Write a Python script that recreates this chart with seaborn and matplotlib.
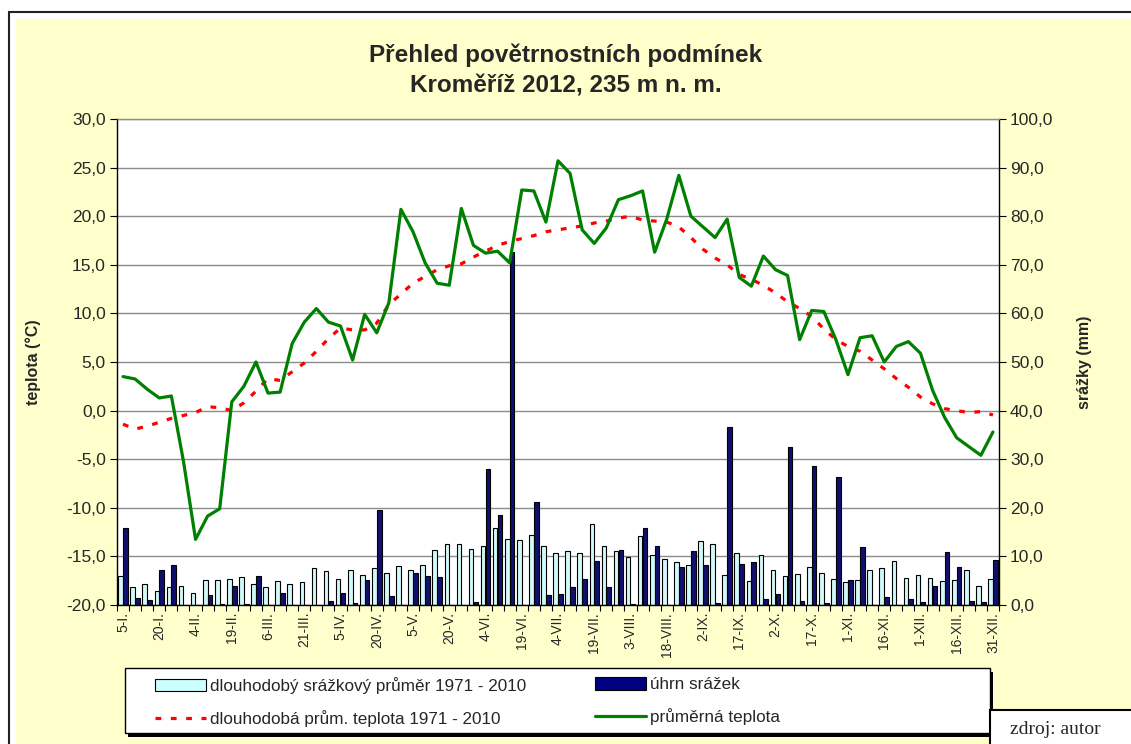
import numpy as np
import pandas as pd
import seaborn as sns
import matplotlib.pyplot as plt
from matplotlib.patches import Rectangle, Patch
from matplotlib.lines import Line2D
from matplotlib.ticker import FuncFormatter

# pentads of 2012 (73 five-day periods)
pentads = list(range(1, 74))
tick_labels = ['5-I.', '20-I.', '4-II.', '19-II.', '6-III.', '21-III.', '5-IV.', '20-IV.',
               '5-V.', '20-V.', '4-VI.', '19-VI.', '4-VII.', '19-VII.', '3-VIII.', '18-VIII.',
               '2-IX.', '17-IX.', '2-X.', '17-X.', '1-XI.', '16-XI.', '1-XII.', '16-XII.', '31-XII.']

# average temperature 2012 (°C)
temp_2012 = [3.5, 3.25, 2.2, 1.3, 1.5, -5.2, -13.25, -10.85, -10.1, 0.9,
             2.5, 5.0, 1.8, 1.9, 6.9, 9.1, 10.5, 9.1, 8.7, 5.2,
             9.9, 8.0, 11.1, 20.7, 18.4, 15.2, 13.1, 12.9, 20.8, 17.0,
             16.2, 16.4, 15.2, 22.7, 22.6, 19.4, 25.7, 24.4, 18.6, 17.2,
             18.8, 21.7, 22.1, 22.6, 16.3, 19.7, 24.2, 20.0, 18.9, 17.8,
             19.7, 13.7, 12.8, 15.9, 14.5, 13.9, 7.3, 10.3, 10.2, 7.3,
             3.7, 7.5, 7.7, 5.0, 6.6, 7.1, 5.9, 2.1, -0.7, -2.8,
             -3.7, -4.6, -2.2]

# long-term mean temperature 1971 - 2010 (°C)
temp_normal = [-1.4, -1.9, -1.6, -1.2, -0.8, -0.5, -0.2, 0.4, 0.3, 0.0,
               0.8, 2.0, 3.3, 3.1, 4.0, 4.9, 6.1, 7.4, 8.5, 8.3,
               8.3, 9.0, 10.9, 12.0, 13.1, 13.8, 14.5, 14.9, 15.1, 15.8,
               16.4, 17.0, 17.4, 17.7, 18.0, 18.4, 18.6, 18.8, 19.0, 19.3,
               19.5, 19.8, 20.0, 19.6, 19.5, 19.4, 18.9, 17.8, 16.6, 15.7,
               15.0, 14.0, 13.5, 12.9, 12.1, 11.2, 10.5, 9.7, 8.4, 7.3,
               6.6, 6.1, 5.2, 4.3, 3.3, 2.4, 1.4, 0.7, 0.2, 0.0,
               -0.2, -0.1, -0.45]

# long-term precipitation 1971 - 2010 (mm)
precip_normal = [5.9, 3.8, 4.3, 2.9, 3.8, 4.0, 2.5, 5.1, 5.1, 5.4,
                 5.8, 4.3, 3.8, 4.9, 4.3, 4.8, 7.6, 6.9, 5.4, 7.1,
                 6.2, 7.6, 6.5, 8.0, 7.3, 8.2, 11.4, 12.6, 12.6, 11.6,
                 12.1, 15.9, 13.5, 13.3, 14.5, 12.2, 10.6, 11.1, 10.6, 16.7,
                 12.1, 11.1, 9.9, 14.2, 10.3, 9.5, 8.8, 8.3, 13.1, 12.6,
                 6.1, 10.8, 4.9, 10.3, 7.1, 6.0, 6.4, 7.9, 6.5, 5.3,
                 4.7, 5.1, 7.1, 7.6, 9.1, 5.6, 6.1, 5.6, 4.9, 5.1,
                 7.1, 4.0, 5.3]

# precipitation 2012 (mm)
precip_2012 = [15.9, 1.4, 1.0, 7.1, 8.2, 0.0, 0.0, 2.0, 0.3, 4.0,
               0.2, 6.0, 0.0, 2.4, 0.0, 0.0, 0.0, 0.8, 2.4, 0.5,
               5.1, 19.5, 1.9, 0.0, 6.5, 6.0, 5.8, 0.0, 0.0, 0.7,
               27.9, 18.5, 72.7, 0.0, 21.1, 2.1, 2.3, 3.7, 5.3, 9.0,
               3.8, 11.3, 0.3, 15.9, 12.2, 0.0, 7.8, 11.2, 8.3, 0.5,
               36.7, 8.5, 8.8, 1.2, 2.2, 32.6, 0.8, 28.5, 0.4, 26.3,
               5.2, 11.9, 0.0, 1.6, 0.0, 1.2, 0.6, 4.0, 10.9, 7.8,
               0.8, 0.7, 9.3]

lab_pn = 'dlouhodobý srážkový průměr 1971 - 2010'
lab_p = 'úhrn srážek'
lab_tn = 'dlouhodobá prům. teplota 1971 - 2010'
lab_t = 'průměrná teplota'

c_light = '#CCFFFF'
c_dark = '#000080'
c_green = '#008000'
c_red = '#FF0000'
c_yellow = '#FFFFCC'

sns.set_theme(style='white')
plt.rcParams['font.family'] = ['Liberation Sans', 'DejaVu Sans']

W, H = 1131, 744
fig = plt.figure(figsize=(W / 100, H / 100), dpi=100)
fig.patch.set_facecolor('white')

def fx(px):
    return px / W

def fy(py):
    return 1 - py / H

def comma(v, p):
    return f'{v:.1f}'.replace('.', ',')

# yellow chart background and outer frame
fig.patches.append(Rectangle((fx(16), 0), 1, fy(19), transform=fig.transFigure,
                             facecolor=c_yellow, edgecolor='none', zorder=-10))
fig.patches.append(Rectangle((fx(9), -0.1), 1.2, fy(12) + 0.1, transform=fig.transFigure,
                             facecolor='none', edgecolor='#222222', lw=1.5, zorder=-9))

ax = fig.add_axes([fx(117), fy(605), fx(999) - fx(117), fy(119) - fy(605)])
ax.set_facecolor('white')

df = pd.DataFrame({
    'pentada': pentads * 2,
    'srazky': precip_normal + precip_2012,
    'serie': [lab_pn] * len(pentads) + [lab_p] * len(pentads),
})
sns.barplot(data=df, x='pentada', y='srazky', hue='serie', hue_order=[lab_pn, lab_p],
            palette=[c_light, c_dark], edgecolor='black', linewidth=0.8,
            width=0.8, gap=0.04, legend=False, ax=ax, zorder=2)

# temperature lines on a twin axis (drawn above bars)
ax_t = ax.twinx()
idx = np.arange(len(pentads))
sns.lineplot(x=idx, y=temp_normal, ax=ax_t, color=c_red, lw=2.3,
             linestyle=(0, (1.8, 3.0)), zorder=3)
sns.lineplot(x=idx, y=temp_2012, ax=ax_t, color=c_green, lw=2.3, zorder=4)

# precipitation axis on the right
ax.set_ylim(0, 100)
ax.set_xlim(-0.5, len(pentads) - 0.5)
ax.yaxis.grid(True, color='#8c8c8c', lw=1.0)
ax.set_axisbelow(True)
ax.set_yticks(np.arange(0, 101, 10))
ax.yaxis.set_major_formatter(FuncFormatter(comma))
ax.yaxis.tick_right()
ax.yaxis.set_label_position('right')
ax.set_xlabel('')
ax.set_ylabel('')

# temperature axis on the left
ax_t.set_ylim(-20, 30)
ax_t.set_yticks(np.arange(-20, 31, 5))
ax_t.yaxis.set_major_formatter(FuncFormatter(comma))
ax_t.yaxis.tick_left()
ax_t.yaxis.set_label_position('left')
ax_t.set_xlabel('')
ax_t.set_ylabel('')
ax_t.grid(False)
for s in ax_t.spines.values():
    s.set_visible(False)

# x ticks: labels every third pentad, small marks at pentad boundaries
ax.set_xticks(idx[::3])
ax.set_xticklabels(tick_labels, rotation=90, fontsize=10)
ax.set_xticks(np.arange(-0.5, len(pentads), 1), minor=True)
ax.tick_params(axis='x', which='major', length=0, pad=5)
ax.tick_params(axis='x', which='minor', length=4, width=0.8, color='black', bottom=True)
ax.tick_params(axis='y', which='major', length=5, width=0.8, color='black',
               labelsize=12.5, pad=3, right=True, left=False, labelright=True, labelleft=False)
ax_t.tick_params(axis='y', which='major', length=5, width=0.8, color='black',
                 labelsize=12.5, pad=3, left=True, right=False, labelleft=True, labelright=False)

for name, s in ax.spines.items():
    s.set_visible(True)
    s.set_linewidth(1.0)
    s.set_color('black')
ax.spines['top'].set_color('#8c8c8c')

# titles and axis labels
fig.text(0.5, fy(55), 'Přehled povětrnostních podmínek', ha='center', va='center',
         fontsize=17.5, fontweight='bold')
fig.text(0.5, fy(86), 'Kroměříž 2012, 235 m n. m.', ha='center', va='center',
         fontsize=17.5, fontweight='bold')
fig.text(fx(33), fy(362), 'teplota (°C)', ha='center', va='center', rotation=90,
         fontsize=11.5, fontweight='bold')
fig.text(fx(1084), fy(362), 'srážky (mm)', ha='center', va='center', rotation=90,
         fontsize=11.5, fontweight='bold')

# legend box with shadow
fig.patches.append(Rectangle((fx(128), fy(737)), fx(865), 65 / H, transform=fig.transFigure,
                             facecolor='black', edgecolor='none', zorder=3))
fig.patches.append(Rectangle((fx(125), fy(733)), fx(865), 65 / H, transform=fig.transFigure,
                             facecolor='white', edgecolor='black', lw=1.0, zorder=4))

h_pn = Patch(facecolor=c_light, edgecolor='black', lw=0.8)
h_p = Patch(facecolor=c_dark, edgecolor='black', lw=0.8)
h_tn = Line2D([], [], color=c_red, lw=2.3, linestyle=(0, (1.8, 3.0)))
h_t = Line2D([], [], color=c_green, lw=2.3)

leg_font = {'family': ['Liberation Sans Narrow', 'Liberation Sans', 'DejaVu Sans'], 'size': 12.3}
for handles, labels, x0 in [([h_pn, h_tn], [lab_pn, lab_tn], 155),
                            ([h_p, h_t], [lab_p, lab_t], 595)]:
    lg = fig.legend(handles, labels, loc='upper left', bbox_to_anchor=(fx(x0), fy(677)),
                    frameon=False, prop=leg_font, handlelength=3.0, handleheight=0.75,
                    handletextpad=0.2, labelspacing=0.95, borderpad=0, borderaxespad=0)
    lg.set_zorder(5)

# source note
fig.patches.append(Rectangle((fx(990), fy(760)), 0.2, 50 / H, transform=fig.transFigure,
                             facecolor='white', edgecolor='black', lw=1.5, zorder=6))
fig.text(fx(1010), fy(729), 'zdroj: autor', ha='left', va='center', fontsize=14,
         family=['Liberation Serif', 'DejaVu Serif'], zorder=7)

fig.savefig('out.png', dpi=100)
